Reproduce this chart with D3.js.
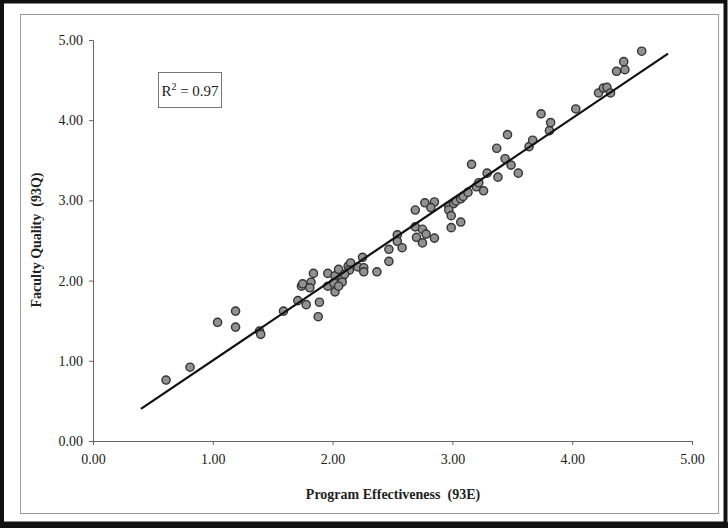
<!DOCTYPE html>
<html>
<head>
<meta charset="utf-8">
<script src="https://cdn.jsdelivr.net/npm/d3@7"></script>
<style>
  html, body { margin: 0; padding: 0; background: #fff; }
  svg { display: block; font-family: "Liberation Serif", "Times New Roman", serif; }
  .title { white-space: pre; }
</style>
</head>
<body>
<svg id="chart" width="728" height="528"></svg>
<script>
// Program effectiveness (93E) for each program
const effectiveness = [
  0.61, 0.81, 1.04, 1.19, 1.19, 1.39, 1.40, 1.59, 1.71, 1.78,
  1.89, 1.88, 1.74, 1.75, 1.82, 1.81, 1.84, 1.96, 2.02, 1.96,
  2.02, 2.05, 2.01, 2.08, 2.08, 2.13, 2.15, 2.14, 2.21, 2.25,
  2.26, 2.26, 2.37, 2.47, 2.47, 2.54, 2.54, 2.58, 2.69, 2.69,
  2.75, 2.78, 2.70, 2.75, 2.85, 2.77, 2.85, 2.82, 2.97, 3.01,
  3.03, 2.97, 2.99, 2.99, 3.07, 3.07, 3.09, 3.13, 3.20, 3.22,
  3.26, 3.16, 3.29, 3.38, 3.37, 3.46, 3.44, 3.49, 3.55, 3.64,
  3.67, 3.74, 3.81, 3.82, 4.03, 4.22, 4.26, 4.29, 4.32, 4.37,
  4.44, 4.43, 4.58, 2.10, 2.05
];
// Faculty quality (93Q) for the same programs
const facultyQuality = [
  0.76, 0.92, 1.48, 1.62, 1.42, 1.37, 1.33, 1.62, 1.75, 1.70,
  1.73, 1.55, 1.93, 1.96, 1.98, 1.91, 2.09, 2.09, 1.86, 1.93,
  2.06, 2.14, 1.97, 2.04, 1.98, 2.18, 2.22, 2.13, 2.17, 2.29,
  2.16, 2.11, 2.11, 2.39, 2.24, 2.57, 2.49, 2.41, 2.88, 2.67,
  2.64, 2.58, 2.54, 2.47, 2.53, 2.97, 2.98, 2.91, 2.93, 2.96,
  2.99, 2.88, 2.81, 2.66, 2.73, 3.02, 3.05, 3.10, 3.17, 3.22,
  3.12, 3.45, 3.34, 3.29, 3.65, 3.82, 3.52, 3.44, 3.34, 3.67,
  3.75, 4.08, 3.87, 3.97, 4.14, 4.34, 4.40, 4.41, 4.34, 4.61,
  4.63, 4.73, 4.86, 2.08, 1.93
];
// Linear trend line end points
const trendX = [0.40, 4.80];
const trendY = [0.40, 4.83];
const rSquared = "0.97";

const xTicks = [0, 1, 2, 3, 4, 5];
const yTicks = [0, 1, 2, 3, 4, 5];
const xTitle = "Program Effectiveness  (93E)";
const yTitle = "Faculty Quality  (93Q)";

const svg = d3.select("#chart");
const W = 728, H = 528;

// frames
svg.append("rect").attr("x", 0).attr("y", 0).attr("width", W).attr("height", H).attr("fill", "#fff");
svg.append("rect").attr("x", 20.5).attr("y", 14.5).attr("width", 698).attr("height", 499)
  .attr("fill", "none").attr("stroke", "#9a9a9a").attr("stroke-width", 1);
svg.append("rect").attr("x", 2).attr("y", 1.5).attr("width", W - 4.5).attr("height", H - 6)
  .attr("fill", "none").attr("stroke", "#111").attr("stroke-width", 4);
svg.append("line").attr("x1", 0).attr("x2", W).attr("y1", H - 3).attr("y2", H - 3)
  .attr("stroke", "#111").attr("stroke-width", 6);

const x = d3.scaleLinear().domain([0, 5]).range([93, 692]);
const y = d3.scaleLinear().domain([0, 5]).range([441, 40]);

// axes
const xAxis = svg.append("g").attr("transform", `translate(0,${y(0)})`)
  .call(d3.axisBottom(x).tickValues(xTicks).tickFormat(d3.format(".2f")).tickSize(4).tickPadding(9));
const yAxis = svg.append("g").attr("transform", `translate(${x(0)},0)`)
  .call(d3.axisLeft(y).tickValues(yTicks).tickFormat(d3.format(".2f")).tickSize(4).tickPadding(6));
[xAxis, yAxis].forEach(g => {
  g.select(".domain").attr("stroke", "#666").attr("stroke-width", 1);
  g.selectAll(".tick line").attr("stroke", "#666");
  g.selectAll(".tick text").attr("fill", "#222").style("font-size", "14px")
    .style("font-family", "'Liberation Serif', serif");
});

// axis titles
svg.append("text").attr("class", "title").attr("x", 393).attr("y", 499).attr("text-anchor", "middle")
  .style("font-size", "14px").style("font-weight", "bold").attr("fill", "#222").text(xTitle);
svg.append("text").attr("class", "title").attr("transform", "translate(41,240) rotate(-90)")
  .attr("text-anchor", "middle")
  .style("font-size", "14px").style("font-weight", "bold").attr("fill", "#222").text(yTitle);

// points
const pts = effectiveness.map((v, i) => ({ x: v, y: facultyQuality[i] }));
svg.append("g").selectAll("circle").data(pts).join("circle")
  .attr("cx", d => x(d.x)).attr("cy", d => y(d.y)).attr("r", 4.1)
  .attr("fill", "#919191").attr("stroke", "#333").attr("stroke-width", 1.4);

// trend line
svg.append("line")
  .attr("x1", x(trendX[0])).attr("y1", y(trendY[0]))
  .attr("x2", x(trendX[1])).attr("y2", y(trendY[1]))
  .attr("stroke", "#111").attr("stroke-width", 2.2);

// R squared box
svg.append("rect").attr("x", 158.5).attr("y", 72.5).attr("width", 63).attr("height", 35)
  .attr("fill", "#fff").attr("stroke", "#777").attr("stroke-width", 1);
const rt = svg.append("text").attr("x", 190).attr("y", 96).attr("text-anchor", "middle")
  .style("font-size", "15px").attr("fill", "#222");
rt.append("tspan").text("R");
rt.append("tspan").attr("dy", -6).style("font-size", "10px").text("2");
rt.append("tspan").attr("dy", 6).text(" = " + rSquared);
</script>
</body>
</html>
